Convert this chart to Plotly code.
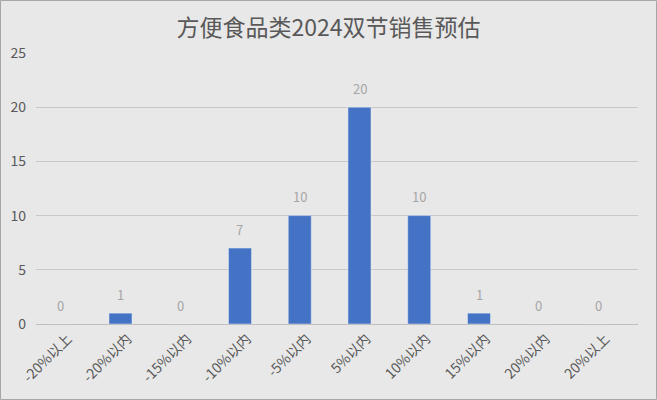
import plotly.graph_objects as go

categories = ["-20%以上", "-20%以内", "-15%以内", "-10%以内", "-5%以内",
              "5%以内", "10%以内", "15%以内", "20%以内", "20%以上"]
counts = [0, 1, 0, 7, 10, 20, 10, 1, 0, 0]

font_cjk = "Noto Sans CJK SC, Microsoft YaHei, sans-serif"

W, H = 657, 400
L, R, T, B = 36, 19, 53, 76

fig = go.Figure()
fig.add_trace(go.Bar(x=categories, y=counts, marker_color="#4472C4", hoverinfo="skip"))

# data labels sit a little above each bar
for c, v in zip(categories, counts):
    fig.add_annotation(x=c, y=v, text=str(v), showarrow=False, yanchor="middle",
                       yshift=19, font=dict(color="#A6A6A6", size=13))

fig.update_layout(
    width=W, height=H,
    title=dict(text="方便食品类2024双节销售预估", x=0.5, xanchor="center",
               y=1 - 28 / H, yanchor="middle",
               font=dict(family=font_cjk, size=23, color="#595959")),
    paper_bgcolor="#E8E8E8", plot_bgcolor="#E8E8E8",
    margin=dict(l=L, r=R, t=T, b=B, autoexpand=False),
    bargap=0.615,
    font=dict(family=font_cjk, size=13, color="#595959"),
    showlegend=False,
)
fig.update_xaxes(range=[-0.414, 9.661], tickangle=-45, showline=True,
                 linecolor="#BFBFBF", linewidth=1, ticks="", showgrid=False,
                 tickfont=dict(size=14), ticklabelshift=7)
fig.update_yaxes(range=[0, 25], dtick=5, showgrid=True, gridcolor="#C8C8C8",
                 zeroline=False, ticks="", tickfont=dict(size=14),
                 ticklabelstandoff=9)

# thin frame around the whole picture
pw, ph = W - L - R, H - T - B
fig.add_shape(type="rect", xref="paper", yref="paper",
              x0=-(L - 0.5) / pw, x1=(W - L - 0.5) / pw,
              y0=-(B - 0.5) / ph, y1=(H - B - 0.5) / ph,
              line=dict(color="#A6A6A6", width=1))

fig.write_html("out.html", config={"displayModeBar": False},
               post_script="document.body.style.margin='0';")
